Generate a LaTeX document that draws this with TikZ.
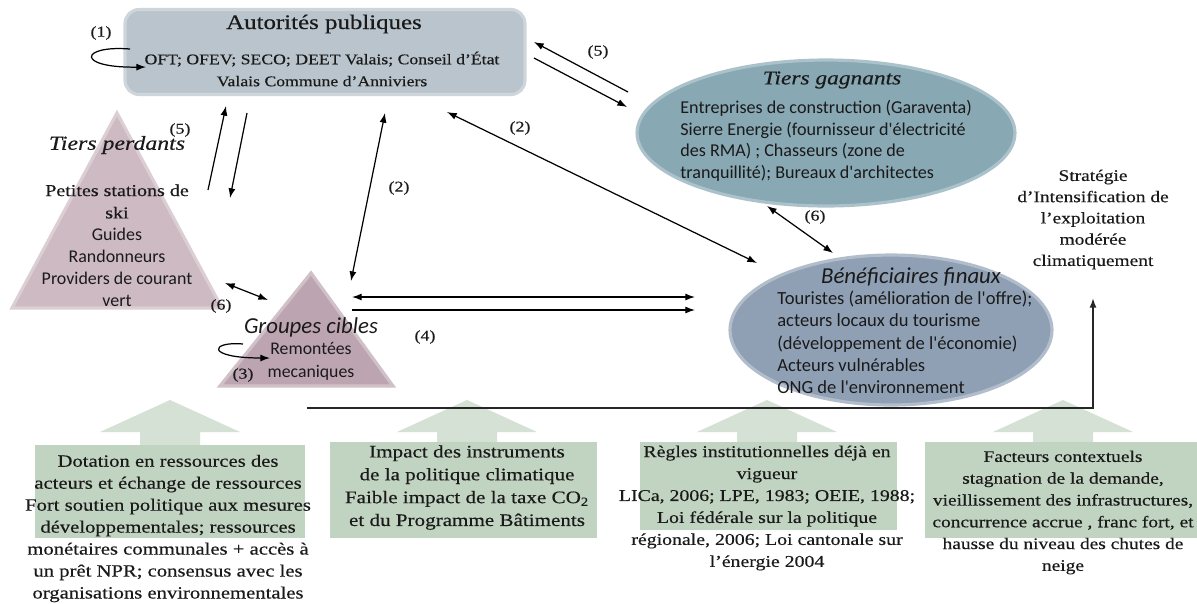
\documentclass[tikz,border=0pt]{standalone}
\usepackage{fontspec}
\setmainfont{Liberation Serif}[FakeStretch=1.2, FakeBold=0.35]
\newfontfamily\calib{Carlito}
\usetikzlibrary{arrows.meta,shapes.geometric}
\newcommand\fs[2]{\fontsize{#1}{#2}\selectfont}
\definecolor{autoC}{HTML}{BAC4CC}
\definecolor{perdC}{HTML}{CDBAC2}
\definecolor{cibC}{HTML}{BCA5B1}
\definecolor{gagnC}{HTML}{88A8B4}
\definecolor{beneC}{HTML}{8FA0B5}
\definecolor{boxC}{HTML}{C1D3C1}
\definecolor{barC}{HTML}{D4E1D4}
\definecolor{txtC}{HTML}{1A1A1A}
\begin{document}
\begin{tikzpicture}[x=0.02cm,y=-0.02cm,
  arr/.style={-{Latex[length=5.5pt,width=4pt]}, line width=0.7pt},
  darr/.style={{Latex[length=5.5pt,width=4pt]}-{Latex[length=5.5pt,width=4pt]}, line width=0.7pt},
  lbl/.style={font=\fs{8.5}{10}, inner sep=0, text=txtC},
  soft/.style={draw=#1!70!white, line width=1.8pt},
  boxtxt/.style={align=center, inner sep=0, text=txtC},
  sanstxt/.style={align=left, inner sep=0, text=txtC},
  blockar/.style={fill=barC},
  greenbox/.style={fill=boxC}]
\useasboundingbox (0,0) rectangle (1197,603);
\fill[white] (0,0) rectangle (1197,603);

% ---------- shapes ----------
\node[fill=autoC, soft=autoC, rounded corners=8pt, minimum width=8cm, minimum height=1.7cm] (auto) at (325,52) {};
\fill[perdC, soft=perdC] (117,113) coordinate (perdtop) -- (222,308) coordinate (perdr) -- (12,308) coordinate (perdl) -- cycle;
\fill[cibC, soft=cibC] (311,273) coordinate (cibtop) -- (393,386) coordinate (cibr) -- (220,386) coordinate (cibl) -- cycle;
\node[ellipse, fill=gagnC, soft=gagnC, minimum width=7.56cm, minimum height=2.92cm] (gagn) at (826,133) {};
\node[ellipse, fill=beneC, soft=beneC, minimum width=6.44cm, minimum height=3cm] (bene) at (891,330) {};

% block arrows and green boxes
\foreach \cx/\nm in {170/b1,467/b2,767/b3,1063/b4}{
  \fill[blockar] (\cx,400) -- (\cx+70,432) -- (\cx+30,432) -- (\cx+30,446) -- (\cx-30,446) -- (\cx-30,432) -- (\cx-70,432) -- cycle;
}
\fill[greenbox] (35,445) rectangle (305,538);
\fill[greenbox] (330,442) rectangle (597,538);
\fill[greenbox] (640,442) rectangle (897,530);
\fill[greenbox] (925,442) rectangle (1197,538);

% ---------- texts ----------
\node[boxtxt, font=\fs{11.8}{14}] (autoT) at (324,24) {Autorités publiques};
\node[boxtxt, font=\fs{8.4}{12.5}] (autoB) at (322,69) {OFT; OFEV; SECO; DEET Valais; Conseil d'État\\Valais Commune d'Anniviers};

\node[boxtxt, font=\fs{11.3}{13}\itshape] (perdT) at (117,145) {Tiers perdants};
\node[boxtxt, font=\fs{9.5}{12.7}] (perdA) at (117,201.5) {Petites stations de\\ski};
\node[boxtxt, font=\calib\fs{10.2}{12.4}] (perdB) at (117,267.5) {Guides\\Randonneurs\\Providers de courant\\vert};

\node[boxtxt, font=\calib\fs{13}{15}\itshape] (cibT) at (311,327) {Groupes cibles};
\node[boxtxt, font=\calib\fs{10.1}{13}] (cibB) at (311,361.5) {Remontées\\mecaniques};

\node[boxtxt, font=\fs{11.1}{13}\itshape] (gagnT) at (832,80) {Tiers gagnants};
\node[sanstxt, font=\calib\fs{10.3}{12.3}, anchor=west] (gagnB) at (680,140.75) {Entreprises de construction (Garaventa)\\Sierre Energie (fournisseur d'électricité\\des RMA) ; Chasseurs (zone de\\tranquillité); Bureaux d'architectes};

\node[boxtxt, font=\calib\fs{13}{15}\itshape] (beneT) at (911,277) {Bénéficiaires finaux};
\node[sanstxt, font=\calib\fs{10.55}{12.7}, anchor=west] (beneB) at (777,342.5) {Touristes (amélioration de l'offre);\\acteurs locaux du tourisme\\(développement de l'économie)\\Acteurs vulnérables\\ONG de l'environnement};

\node[boxtxt, font=\fs{9.2}{12.1}] (strat) at (1093,219.5) {Stratégie\\d'Intensification de\\l'exploitation\\modérée\\climatiquement};

\node[boxtxt, font=\fs{9.8}{12.5}] (t1) at (168,528.5) {Dotation en ressources des\\acteurs et échange de ressources\\Fort soutien politique aux mesures\\développementales; ressources\\monétaires communales + accès à\\un prêt NPR; consensus avec les\\organisations environnementales};
\node[boxtxt, font=\fs{10}{13}] (t2) at (467,487.5) {Impact des instruments\\de la politique climatique\\Faible impact de la taxe CO\textsubscript{2}\\et du Programme Bâtiments};
\node[boxtxt, font=\fs{9.4}{12.5}] (t3) at (767,508) {Règles institutionnelles déjà en\\vigueur\\LICa, 2006; LPE, 1983; OEIE, 1988;\\Loi fédérale sur la politique\\régionale, 2006; Loi cantonale sur\\l'énergie 2004};
\node[boxtxt, font=\fs{9.2}{12.4}] (t4) at (1063,512.5) {Facteurs contextuels\\stagnation de la demande,\\vieillissement des infrastructures,\\concurrence accrue , franc fort, et\\hausse du niveau des chutes de\\neige};

% ---------- labels ----------
\node[lbl] (l1) at (101,33) {(1)};
\node[lbl] (l5a) at (180,130) {(5)};
\node[lbl] (l5b) at (598,52) {(5)};
\node[lbl] (l2a) at (399,188) {(2)};
\node[lbl] (l2b) at (520,128) {(2)};
\node[lbl] (l6a) at (221,306) {(6)};
\node[lbl] (l6b) at (815,217) {(6)};
\node[lbl] (l3) at (243,375) {(3)};
\node[lbl] (l4) at (425,337) {(4)};

% ---------- connector end points ----------
\coordinate (s1) at (130,49); \coordinate (e1) at (146,67);
\coordinate (s3) at (243,344); \coordinate (e3) at (270,358);
\coordinate (g5a) at (628,92); \coordinate (u5a) at (534,42);
\coordinate (u5b) at (534,58); \coordinate (g5b) at (627,107);
\coordinate (p5a) at (208,190); \coordinate (u5c) at (226,106);
\coordinate (u5d) at (247,113); \coordinate (p5b) at (230,198);
\coordinate (u2a) at (385,113); \coordinate (c2a) at (351,281);
\coordinate (u2b) at (447,112); \coordinate (b2a) at (757,263);
\coordinate (g6) at (767,206); \coordinate (b6) at (833,253);
\coordinate (p6) at (225,283); \coordinate (c6) at (268,300);
\coordinate (c4a) at (352,297); \coordinate (b4a) at (695,297);
\coordinate (c4b) at (352,310); \coordinate (b4b) at (695,310);
\coordinate (hl) at (307,408); \coordinate (stratin) at (1093,298);

% ---------- connectors ----------
\draw[arr] (s1) .. controls (80,45) and (75,68) .. (e1);
\draw[arr] (s3) .. controls (210,341) and (205,358) .. (e3);
\draw[arr] (g5a) -- (u5a);
\draw[arr] (u5b) -- (g5b);
\draw[arr] (p5a) -- (u5c);
\draw[arr] (u5d) -- (p5b);
\draw[darr] (u2a) -- (c2a);
\draw[darr] (u2b) -- (b2a);
\draw[darr] (g6) -- (b6);
\draw[darr] (p6) -- (c6);
\draw[darr] (c4a) -- (b4a);
\draw[arr] (c4b) -- (b4b);
\draw[arr, line width=1pt, draw=black!85] (hl) -| (stratin);
\end{tikzpicture}
\end{document}
